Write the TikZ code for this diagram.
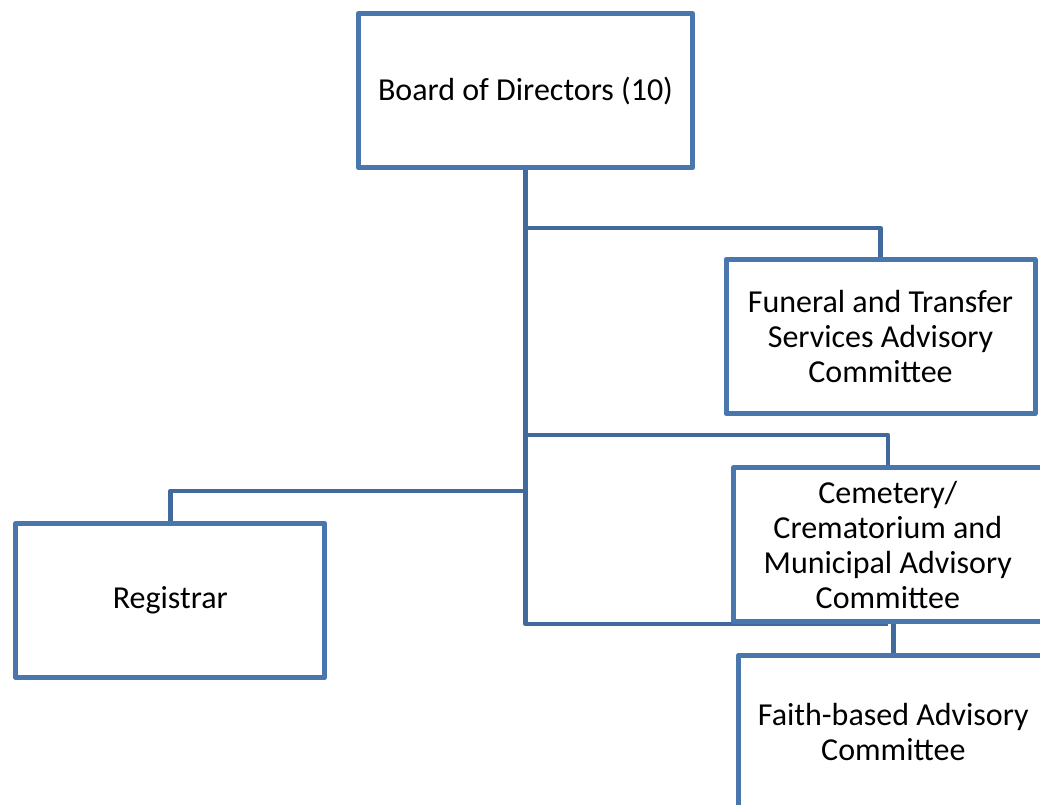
\documentclass[tikz,border=0pt]{standalone}
\usepackage{fontspec}
\setmainfont{Carlito}
\usetikzlibrary{backgrounds}
\definecolor{boxc}{HTML}{4A76AE}
\definecolor{connc}{HTML}{41699D}
\begin{document}
\begin{tikzpicture}[x=1pt,y=-1pt,
  box/.style={draw=boxc, line width=5pt, line join=round, fill=white,
    minimum width=309pt, minimum height=154pt, inner sep=0pt,
    align=center, font=\fontsize{32}{35}\selectfont},
  conn/.style={draw=connc, line width=4.5pt, line join=round}]
\useasboundingbox (0,0) rectangle (1040,804);
\clip (0,0) rectangle (1040,804);
\node[box, minimum width=334.5pt] (board) at (525.5,90.8) {Board of Directors (10)};
\node[box] (funeral) at (880.5,336.5) {Funeral and Transfer\\Services Advisory\\Committee};
\node[box] (cem) at (887.8,544.7) {Cemetery/\\Crematorium and\\Municipal Advisory\\Committee};
\node[box] (faith) at (893.3,732) {Faith-based Advisory\\Committee};
\node[box] (reg) at (170.3,600.5) {Registrar};
\coordinate (hF) at (0,228);
\coordinate (hC) at (0,435);
\coordinate (hR) at (0,491);
\begin{scope}[on background layer]
  \draw[conn] (board.center) |- (cem.south);
  \draw[conn] (board.south |- hF) -| (funeral.center);
  \draw[conn] (board.south |- hC) -| (cem.center);
  \draw[conn] (board.south |- hR) -| (reg.center);
  \draw[conn] (faith.center) -- (cem.center -| faith.center);
\end{scope}
\end{tikzpicture}
\end{document}
